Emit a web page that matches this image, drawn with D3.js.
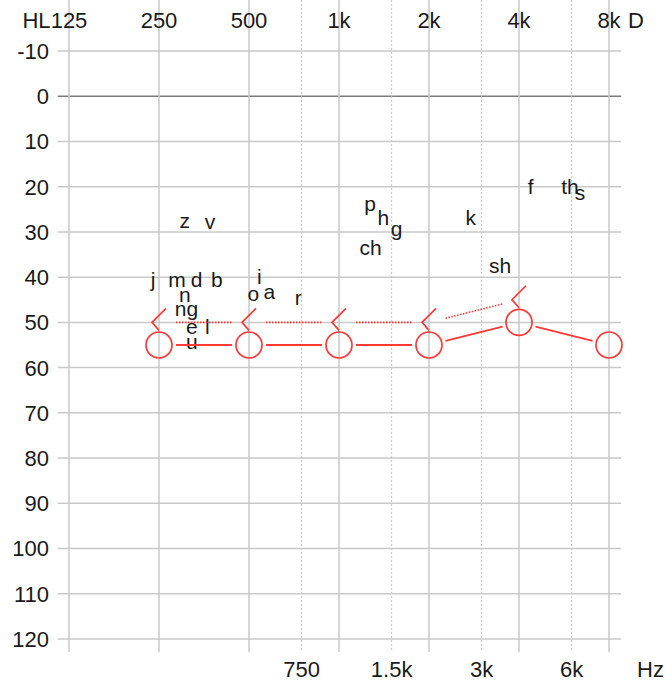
<!DOCTYPE html>
<html lang="en">
  <head>
    <meta charset="utf-8" />
    <title>Audiogram</title>
    <script src="https://cdn.jsdelivr.net/npm/d3@7/dist/d3.min.js"></script>
    <style>
      body { margin: 0; background: #fff; }
      text { font-family: "Liberation Sans", Arial, sans-serif; fill: #1a1a1a; }
    </style>
  </head>
  <body>
    <script>
      // octave ticks (top) and half-octave ticks (bottom)
      var octaveFreqs = [125, 250, 500, 1000, 2000, 4000, 8000]
      var octaveLabels = ["125", "250", "500", "1k", "2k", "4k", "8k"]
      var midFreqs = [750, 1500, 3000, 6000]
      var midLabels = ["750", "1.5k", "3k", "6k"]
      var dbTicks = [-10, 0, 10, 20, 30, 40, 50, 60, 70, 80, 90, 100, 110, 120]

      // right ear, air conduction (O) and bone conduction (<)
      var airFreqs = [250, 500, 1000, 2000, 4000, 8000]
      var airLevels = [55, 55, 55, 55, 50, 55]
      var boneFreqs = [250, 500, 1000, 2000, 4000]
      var boneLevels = [50, 50, 50, 50, 45]

      // speech sounds
      var sounds = ["z", "v", "j", "m", "d", "b", "n", "ng", "e", "l", "u", "i", "o", "a", "r",
                    "p", "h", "g", "ch", "k", "sh", "f", "th", "s"]
      var soundFreqs = [305, 370, 239, 287, 334, 390, 305, 309, 322, 363, 322, 541, 517, 585, 731,
                        1270, 1406, 1559, 1276, 2757, 3456, 4378, 5925, 6400]
      var soundLevels = [27.8, 28.2, 40.9, 41, 41, 41, 44.2, 47.3, 51.4, 51.4, 54.7, 40.3, 44.1, 43.5, 45,
                         24.1, 27.3, 29.7, 33.9, 27.3, 37.9, 20.3, 20.4, 21.7]

      var width = 667, height = 681
      var red = "#ff3838"

      var svg = d3.select("body").append("svg")
                  .attr("width", width)
                  .attr("height", height)

      var x = d3.scaleLog().base(2).domain([125, 8000]).range([69, 609])
      var y = d3.scaleLinear().domain([-10, 120]).range([51, 639])

      var left = x(114.6), right = x(8920), top = y(-13), bottom = y(122.9)

      var grad = svg.append("defs").append("linearGradient")
                    .attr("id", "bg")
                    .attr("x1", "0").attr("y1", "0").attr("x2", "1").attr("y2", "1")
      grad.append("stop").attr("offset", "0").attr("stop-color", "#ffffff")
      grad.append("stop").attr("offset", "1").attr("stop-color", "#e8e8e8")

      svg.append("rect")
         .attr("x", left).attr("y", top)
         .attr("width", right - left).attr("height", bottom - top)
         .attr("fill", "url(#bg)")

      // grid
      svg.selectAll(".hgrid")
         .data(dbTicks)
         .enter().append("line")
           .attr("x1", left).attr("x2", right - 2)
           .attr("y1", function(d) { return y(d) }).attr("y2", function(d) { return y(d) })
           .attr("stroke", function(d) { return d == 0 ? "#7c7c7c" : "#c9c9c9" })
           .attr("stroke-width", 1.5)

      svg.selectAll(".vgrid")
         .data(octaveFreqs)
         .enter().append("line")
           .attr("x1", function(d) { return x(d) }).attr("x2", function(d) { return x(d) })
           .attr("y1", top).attr("y2", bottom)
           .attr("stroke", "#c9c9c9")
           .attr("stroke-width", 1.5)

      svg.selectAll(".vgrid2")
         .data(midFreqs)
         .enter().append("line")
           .attr("x1", function(d) { return x(d) }).attr("x2", function(d) { return x(d) })
           .attr("y1", top).attr("y2", bottom)
           .attr("stroke", "#c4c4c4")
           .attr("stroke-width", 1)
           .attr("stroke-dasharray", "2,2")

      svg.append("rect")
         .attr("x", left).attr("y", top)
         .attr("width", right - left).attr("height", bottom - top)
         .attr("fill", "none")
         .attr("stroke", red)
         .attr("stroke-width", 2)

      // axis labels
      svg.selectAll(".toplab")
         .data(octaveFreqs)
         .enter().append("text")
           .attr("x", function(d) { return x(d) })
           .attr("y", 28)
           .attr("text-anchor", "middle")
           .style("font-size", "22px")
           .text(function(d, i) { return octaveLabels[i] })

      svg.append("text").attr("x", x(125) - 18.5).attr("y", 28)
         .attr("text-anchor", "end").style("font-size", "22px").text("HL")
      svg.append("text").attr("x", 628).attr("y", 28)
         .style("font-size", "22px").text("D")

      svg.selectAll(".botlab")
         .data(midFreqs)
         .enter().append("text")
           .attr("x", function(d) { return x(d) })
           .attr("y", 677)
           .attr("text-anchor", "middle")
           .style("font-size", "22px")
           .text(function(d, i) { return midLabels[i] })

      svg.append("text").attr("x", 637).attr("y", 677)
         .style("font-size", "22px").text("Hz")

      svg.selectAll(".ylab")
         .data(dbTicks)
         .enter().append("text")
           .attr("x", 49)
           .attr("y", function(d) { return y(d) })
           .attr("dy", "0.36em")
           .attr("text-anchor", "end")
           .style("font-size", "22px")
           .text(function(d) { return d })

      // speech sounds
      svg.selectAll(".sound")
         .data(sounds)
         .enter().append("text")
           .attr("x", function(d, i) { return x(soundFreqs[i]) })
           .attr("y", function(d, i) { return y(soundLevels[i]) })
           .attr("dy", "0.27em")
           .attr("text-anchor", "middle")
           .style("font-size", "21px")
           .text(function(d) { return d })

      // connecting segments, trimmed back from each symbol
      function segments(fs, ls, gap) {
        var out = []
        for (var i = 0; i < fs.length - 1; i++) {
          var x1 = x(fs[i]), y1 = y(ls[i]), x2 = x(fs[i + 1]), y2 = y(ls[i + 1])
          var len = Math.hypot(x2 - x1, y2 - y1)
          var ux = (x2 - x1) / len, uy = (y2 - y1) / len
          out.push([x1 + ux * gap, y1 + uy * gap, x2 - ux * gap, y2 - uy * gap])
        }
        return out
      }

      svg.selectAll(".boneline")
         .data(segments(boneFreqs, boneLevels, 17))
         .enter().append("line")
           .attr("x1", function(d) { return d[0] }).attr("y1", function(d) { return d[1] })
           .attr("x2", function(d) { return d[2] }).attr("y2", function(d) { return d[3] })
           .attr("stroke", red)
           .attr("stroke-width", 1.6)
           .attr("stroke-dasharray", "1.5,1.5")

      svg.selectAll(".airline")
         .data(segments(airFreqs, airLevels, 17))
         .enter().append("line")
           .attr("x1", function(d) { return d[0] }).attr("y1", function(d) { return d[1] })
           .attr("x2", function(d) { return d[2] }).attr("y2", function(d) { return d[3] })
           .attr("stroke", red)
           .attr("stroke-width", 1.8)

      svg.selectAll(".air")
         .data(airFreqs)
         .enter().append("circle")
           .attr("cx", function(d) { return x(d) })
           .attr("cy", function(d, i) { return y(airLevels[i]) })
           .attr("r", 13)
           .attr("fill", "none")
           .attr("stroke", red)
           .attr("stroke-width", 1.7)

      svg.selectAll(".bone")
         .data(boneFreqs)
         .enter().append("path")
           .attr("d", function(d, i) {
             var cx = x(d), cy = y(boneLevels[i])
             return "M" + (cx + 7) + "," + (cy - 14) + "L" + (cx - 7) + "," + cy + "L" + cx + "," + (cy + 8)
           })
           .attr("fill", "none")
           .attr("stroke", red)
           .attr("stroke-width", 1.7)
    </script>
  </body>
</html>
